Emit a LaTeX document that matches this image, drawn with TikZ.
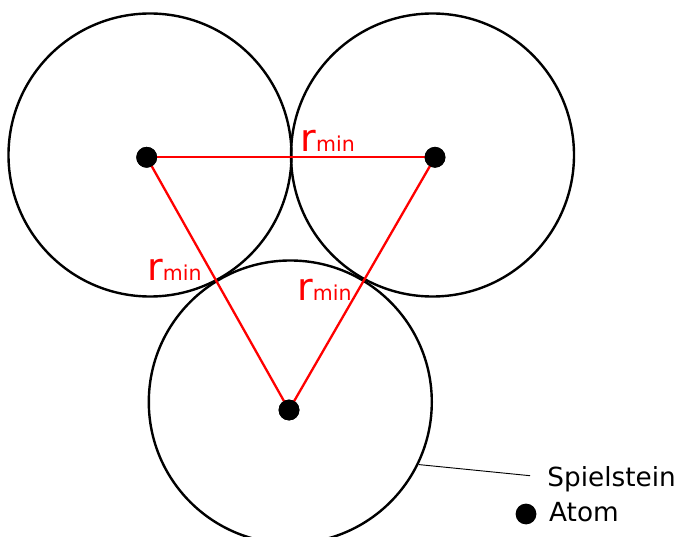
\documentclass[tikz,border=0pt]{standalone}
\usepackage{fontspec}
\setmainfont{DejaVu Sans}
\begin{document}
\begin{tikzpicture}[x=1pt,y=-1pt,
  stone/.style={circle,draw=black,line width=2.4pt,minimum size=283pt,inner sep=0pt},
  atom/.style={circle,fill=black,minimum size=20.8pt,inner sep=0pt},
  bond/.style={draw=red,line width=2.3pt},
  rlabel/.style={text=red,anchor=base west,inner sep=0pt},
  legend/.style={anchor=base west,inner sep=0pt,font=\fontsize{26.3}{29}\selectfont}
]
\useasboundingbox (0,0) rectangle (680,537);
\newcommand{\rminlabel}{{\fontsize{38}{40}\selectfont r}{\fontsize{20.5}{22}\selectfont min}}

% playing pieces
\node[stone] (s1) at (150,155) {};
\node[stone] (s2) at (432.5,155) {};
\node[stone] (s3) at (290.3,402) {};

% atoms
\node[atom] (a1) at (146.7,157.3) {};
\node[atom] (a2) at (435,157.3) {};
\node[atom] (a3) at (289,410) {};

% minimum distances
\draw[bond] (a1.center) -- (a2.center);
\draw[bond] (a1.center) -- (a3.center);
\draw[bond] (a2.center) -- (a3.center);
\node[atom] at (a1) {};
\node[atom] at (a2) {};
\node[atom] at (a3) {};

\node[rlabel] (l1) at (300.4,151.7) {\rminlabel};
\node[rlabel] (l2) at (147.1,280.7) {\rminlabel};
\node[rlabel] (l3) at (297.1,301) {\rminlabel};

% legend
\coordinate (pin) at (530,475.7);
\draw[line width=0.9pt] (s3.-26) -- (pin);
\node[legend] (t1) at (547.2,486.7) {Spielstein};
\node[atom] (a4) at (526,514) {};
\node[legend] (t2) at (549,521.7) {Atom};
\end{tikzpicture}
\end{document}
